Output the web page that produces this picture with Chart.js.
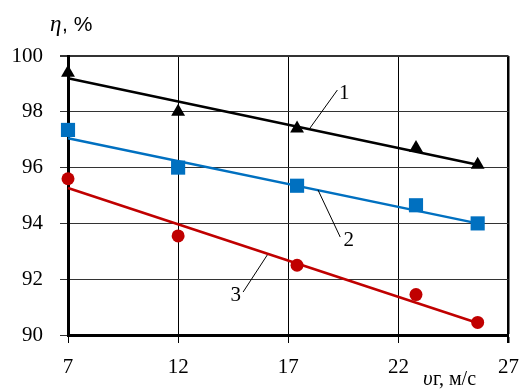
<!DOCTYPE html>
<html>
<head>
<meta charset="utf-8">
<script src="https://cdn.jsdelivr.net/npm/chart.js@4/dist/chart.umd.min.js"></script>
<style>
  html, body { margin: 0; padding: 0; background: #fff; }
  #wrap { width: 531px; height: 392px; position: relative; }
</style>
</head>
<body>
<div id="wrap"><canvas id="c"></canvas></div>
<script>
// Gas velocity, m/s
const velocity = [7, 12, 17.4, 22.8, 25.6];
// Efficiency η, % for the three regimes
const eta1 = [99.4, 98.0, 97.4, 96.7, 96.1];
const eta2 = [97.35, 96.0, 95.35, 94.65, 94.0];
const eta3 = [95.6, 93.55, 92.5, 91.45, 90.45];
// Approximating straight lines: values at the first and last velocity
const trendX = [7, 25.6];
const trend1 = [99.2, 96.1];
const trend2 = [97.05, 94.0];
const trend3 = [95.27, 90.43];
// Axis ticks
const xTicks = [7, 12, 17, 22, 27];
const yTicks = [90, 92, 94, 96, 98, 100];

const BLACK = '#000000', BLUE = '#0070C0', RED = '#C00000';

const pts = (xs, ys) => xs.map((x, i) => ({ x: x, y: ys[i] }));

// Curve numbers with leader lines (data coordinates)
const curveLabels = [
  { text: '1', from: [17.99, 97.42], to: [19.23, 98.78], at: [19.54, 98.67] },
  { text: '2', from: [18.35, 95.20], to: [19.36, 93.51], at: [19.75, 93.40] },
  { text: '3', from: [16.05, 92.87], to: [14.95, 91.54], at: [14.62, 91.43] }
];

const annotations = {
  id: 'annotations',
  afterDatasetsDraw(chart) {
    const { ctx, scales: { x, y } } = chart;
    ctx.save();
    ctx.strokeStyle = '#000';
    ctx.lineWidth = 1;
    ctx.fillStyle = '#000';
    ctx.font = '21px "Liberation Serif"';
    ctx.textAlign = 'center';
    ctx.textBaseline = 'middle';
    curveLabels.forEach(l => {
      ctx.beginPath();
      ctx.moveTo(x.getPixelForValue(l.from[0]), y.getPixelForValue(l.from[1]));
      ctx.lineTo(x.getPixelForValue(l.to[0]), y.getPixelForValue(l.to[1]));
      ctx.stroke();
      ctx.fillText(l.text, x.getPixelForValue(l.at[0]), y.getPixelForValue(l.at[1]));
    });
    // Axis titles
    ctx.textAlign = 'left';
    ctx.textBaseline = 'alphabetic';
    ctx.font = 'italic 23px "Liberation Serif"';
    ctx.fillText('η', 50, 31);
    ctx.font = '21px "Liberation Sans"';
    ctx.fillText(', %', 62, 31);
    ctx.font = 'italic 21px "Liberation Serif"';
    ctx.fillText('υ', 423, 385);
    ctx.font = '20px "Liberation Serif"';
    ctx.fillText('г, м/с', 433, 385);
    ctx.restore();
  }
};

const markerSet = (label, data, color, style, radius) => ({
  label, data, showLine: false, clip: false,
  pointStyle: style, pointRadius: radius, pointHoverRadius: radius,
  pointBackgroundColor: color, pointBorderColor: color, pointBorderWidth: 0,
  order: 1
});
const lineSet = (label, data, color) => ({
  label, data, showLine: true, borderColor: color, borderWidth: 2.5,
  pointRadius: 0, fill: false, order: 2, clip: false
});

new Chart(document.getElementById('c'), {
  type: 'scatter',
  data: {
    datasets: [
      lineSet('1 line', pts(trendX, trend1), BLACK),
      lineSet('2 line', pts(trendX, trend2), BLUE),
      lineSet('3 line', pts(trendX, trend3), RED),
      markerSet('1', pts(velocity, eta1), BLACK, 'triangle', 8),
      markerSet('2', pts(velocity, eta2), BLUE, 'rect', 10),
      markerSet('3', pts(velocity, eta3), RED, 'circle', 6.5)
    ]
  },
  options: {
    responsive: true,
    maintainAspectRatio: false,
    animation: false,
    layout: { padding: { top: 56, right: 10, left: 0, bottom: 0 } },
    plugins: { legend: { display: false }, tooltip: { enabled: false } },
    scales: {
      x: {
        type: 'linear', min: 7, max: 27,
        afterBuildTicks: s => { s.ticks = xTicks.map(v => ({ value: v })); },
        afterFit: s => { s.height = 57; },
        border: { display: true, color: '#000', width: 3 },
        grid: {
          color: '#000', tickColor: '#000', tickLength: 8,
          lineWidth: c => (c.tick && c.tick.value === 27 ? 2.5 : 1)
        },
        ticks: {
          color: '#000', padding: 12, maxRotation: 0, autoSkip: false,
          font: { family: '"Liberation Serif"', size: 21 }
        }
      },
      y: {
        type: 'linear', min: 90, max: 100,
        afterBuildTicks: s => { s.ticks = yTicks.map(v => ({ value: v })); },
        afterFit: s => { s.width = 68; },
        border: { display: true, color: '#000', width: 3 },
        grid: {
          color: '#333', tickColor: '#333', tickLength: 8,
          lineWidth: c => (c.tick && c.tick.value === 100 ? 2 : 1)
        },
        ticks: {
          color: '#000', padding: 17,
          font: { family: '"Liberation Serif"', size: 21 }
        }
      }
    }
  },
  plugins: [annotations]
});
</script>
</body>
</html>
